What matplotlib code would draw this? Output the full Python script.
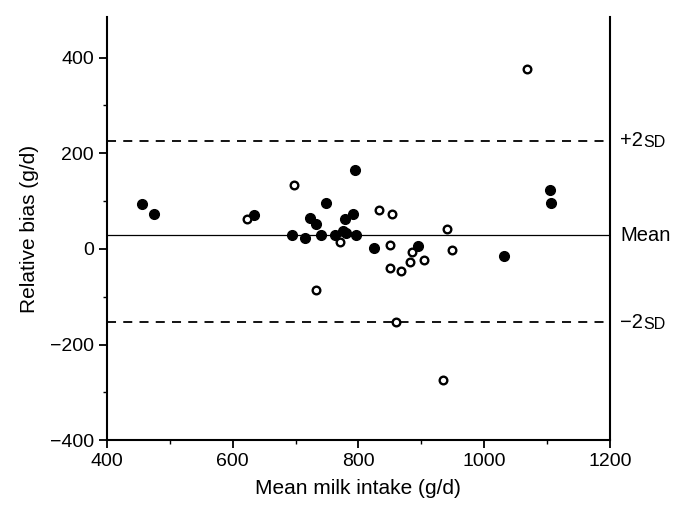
import matplotlib
matplotlib.use('Agg')
import matplotlib.pyplot as plt
from matplotlib.ticker import MultipleLocator

plt.rcParams['font.family'] = ['Liberation Sans', 'DejaVu Sans']

# filled circles
filled_x = [455, 475, 634, 695, 715, 723, 732, 740, 748, 762, 776, 779, 780,
            792, 795, 796, 824, 894, 1032, 1104, 1106]
filled_y = [93, 74, 70, 30, 23, 64, 52, 30, 97, 30, 38, 63, 33,
            74, 164, 30, 1, 6, -15, 124, 96]

# open circles
open_x = [622, 697, 732, 770, 832, 851, 851, 854, 860, 868, 882, 885, 904,
          935, 941, 949, 1068]
open_y = [62, 133, -86, 15, 81, 8, -39, 74, -153, -46, -28, -6, -23,
          -274, 41, -2, 377]

mean_bias = 29
upper_lim = 226
lower_lim = -153

fig = plt.figure(figsize=(6.75, 5.16), dpi=100)
ax = fig.add_axes([0.1585, 0.147, 0.745, 0.82])

ax.axhline(mean_bias, color='black', lw=0.9, zorder=1)
ax.axhline(upper_lim, color='black', lw=1.3, linestyle=(0, (5, 4)), zorder=1)
ax.axhline(lower_lim, color='black', lw=1.3, linestyle=(0, (5, 4)), zorder=1)

ax.plot(filled_x, filled_y, 'o', color='black', markersize=7, zorder=3)
ax.plot(open_x, open_y, 'o', markerfacecolor='white', markeredgecolor='black',
        markeredgewidth=1.7, markersize=5.5, zorder=3)

ax.set_xlim(400, 1200)
ax.set_ylim(-400, 485)
ax.xaxis.set_major_locator(MultipleLocator(200))
ax.xaxis.set_minor_locator(MultipleLocator(100))
ax.yaxis.set_major_locator(MultipleLocator(200))
ax.yaxis.set_minor_locator(MultipleLocator(100))
ax.tick_params(which='major', direction='out', length=6, width=1.3, labelsize=14)
ax.tick_params(which='minor', direction='out', length=3, width=1.0)

ax.spines['top'].set_visible(False)
for side in ['left', 'bottom', 'right']:
    ax.spines[side].set_linewidth(1.5)

ax.set_xlabel('Mean milk intake (g/d)', fontsize=15, labelpad=6)
ax.set_ylabel('Relative bias (g/d)', fontsize=15, labelpad=8)

# right-hand labels, "SD" in small caps
trans = ax.get_yaxis_transform()
for yv, lab in [(upper_lim, '+2'), (mean_bias, 'Mean'), (lower_lim, '\u22122')]:
    t = ax.text(1.02, yv, lab, transform=trans, fontsize=14.5, va='center', ha='left')
    if lab != 'Mean':
        ax.annotate('SD', xy=(1, 0), xycoords=t, fontsize=11.5, va='bottom', ha='left')

fig.savefig('out.png', dpi=100)
